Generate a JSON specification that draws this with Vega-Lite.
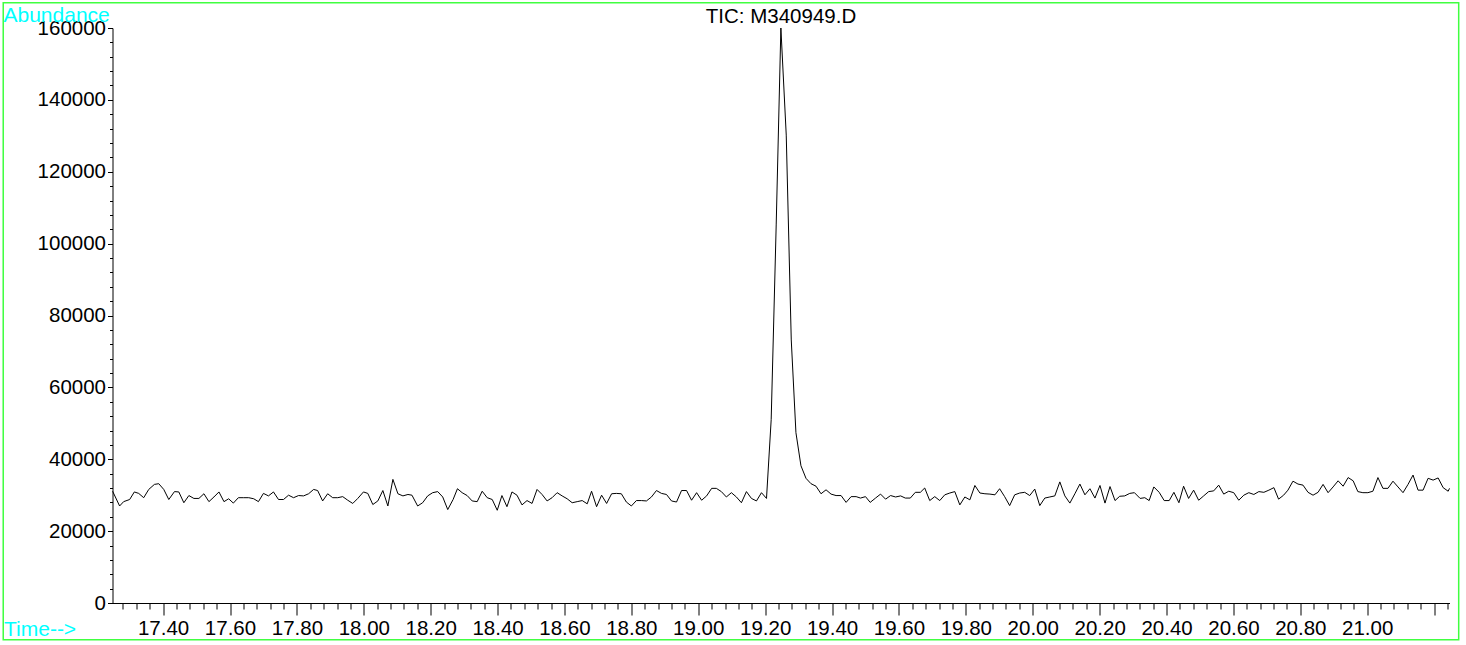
{
"$schema": "https://vega.github.io/schema/vega-lite/v6.json",
"width": 1337,
"height": 575,
"autosize": {"type": "none"},
"padding": {"left": 112.5, "top": 28, "right": 16, "bottom": 42},
"background": "white",
"config": {
  "view": {"stroke": null},
  "font": "Liberation Sans",
  "axis": {"domainColor": "black", "tickColor": "black", "labelColor": "black", "labelFont": "Liberation Sans", "labelFontSize": 20.5, "grid": false, "domainWidth": 1, "tickWidth": 1, "labelFlush": false, "labelOverlap": false}
},
"title": {"text": "TIC: M340949.D", "frame": "group", "anchor": "middle", "baseline": "alphabetic", "offset": 0, "dy": 41.4, "fontSize": 20.5, "fontWeight": "normal", "font": "Liberation Sans", "color": "black"},
"datasets": {
  "tic": [
{"t":17.249,"v":31100},{"t":17.270,"v":27000},{"t":17.282,"v":28200},{"t":17.300,"v":28800},{"t":17.314,"v":30900},{"t":17.327,"v":30500},{"t":17.342,"v":29300},{"t":17.357,"v":31600},{"t":17.374,"v":33000},{"t":17.387,"v":33200},
{"t":17.402,"v":31600},{"t":17.417,"v":28800},{"t":17.434,"v":31000},{"t":17.447,"v":30900},{"t":17.462,"v":27900},{"t":17.477,"v":29900},{"t":17.492,"v":29100},{"t":17.507,"v":29100},{"t":17.522,"v":30400},{"t":17.537,"v":28200},
{"t":17.552,"v":29500},{"t":17.567,"v":30900},{"t":17.582,"v":28200},{"t":17.596,"v":29000},{"t":17.610,"v":27800},{"t":17.625,"v":29300},{"t":17.641,"v":29300},{"t":17.656,"v":29300},{"t":17.671,"v":29000},{"t":17.685,"v":28200},
{"t":17.700,"v":30500},{"t":17.715,"v":29800},{"t":17.730,"v":30900},{"t":17.745,"v":28800},{"t":17.760,"v":28800},{"t":17.775,"v":30000},{"t":17.790,"v":29300},{"t":17.805,"v":29900},{"t":17.820,"v":29800},{"t":17.835,"v":30400},
{"t":17.850,"v":31600},{"t":17.862,"v":31300},{"t":17.877,"v":28400},{"t":17.892,"v":30400},{"t":17.907,"v":29300},{"t":17.922,"v":29300},{"t":17.937,"v":29600},{"t":17.952,"v":28600},{"t":17.967,"v":27700},{"t":17.982,"v":29100},
{"t":17.999,"v":30900},{"t":18.012,"v":30500},{"t":18.027,"v":27400},{"t":18.042,"v":28400},{"t":18.057,"v":31300},{"t":18.072,"v":27000},{"t":18.087,"v":34400},{"t":18.102,"v":30400},{"t":18.117,"v":29800},{"t":18.132,"v":30200},
{"t":18.144,"v":30000},{"t":18.161,"v":27000},{"t":18.176,"v":27900},{"t":18.191,"v":29800},{"t":18.206,"v":30700},{"t":18.221,"v":31000},{"t":18.236,"v":29500},{"t":18.251,"v":26000},{"t":18.267,"v":28800},{"t":18.280,"v":31800},
{"t":18.294,"v":30700},{"t":18.309,"v":29900},{"t":18.324,"v":28400},{"t":18.339,"v":28200},{"t":18.354,"v":31100},{"t":18.369,"v":29300},{"t":18.384,"v":28800},{"t":18.399,"v":25800},{"t":18.413,"v":29900},{"t":18.428,"v":26800},
{"t":18.443,"v":30900},{"t":18.458,"v":30000},{"t":18.473,"v":27300},{"t":18.488,"v":28500},{"t":18.503,"v":27700},{"t":18.518,"v":31600},{"t":18.533,"v":30200},{"t":18.548,"v":28400},{"t":18.563,"v":29300},{"t":18.578,"v":30700},
{"t":18.593,"v":29800},{"t":18.608,"v":29000},{"t":18.623,"v":27900},{"t":18.638,"v":28200},{"t":18.653,"v":28500},{"t":18.668,"v":27600},{"t":18.681,"v":31100},{"t":18.696,"v":26800},{"t":18.711,"v":30000},{"t":18.726,"v":27700},
{"t":18.741,"v":30400},{"t":18.755,"v":30500},{"t":18.770,"v":30400},{"t":18.785,"v":28100},{"t":18.800,"v":27000},{"t":18.815,"v":28500},{"t":18.830,"v":28500},{"t":18.845,"v":28400},{"t":18.860,"v":29500},{"t":18.875,"v":31300},
{"t":18.890,"v":30500},{"t":18.905,"v":30200},{"t":18.920,"v":28400},{"t":18.935,"v":28100},{"t":18.950,"v":31300},{"t":18.965,"v":31300},{"t":18.980,"v":28600},{"t":18.995,"v":30700},{"t":19.010,"v":28600},{"t":19.025,"v":29800},
{"t":19.040,"v":31900},{"t":19.054,"v":31900},{"t":19.069,"v":31000},{"t":19.084,"v":29500},{"t":19.099,"v":30700},{"t":19.114,"v":29500},{"t":19.129,"v":27900},{"t":19.144,"v":31000},{"t":19.159,"v":29100},{"t":19.174,"v":28400},
{"t":19.189,"v":30700},{"t":19.204,"v":29100},{"t":19.218,"v":51000},{"t":19.233,"v":105200},{"t":19.247,"v":160000},{"t":19.263,"v":130200},{"t":19.278,"v":73200},{"t":19.292,"v":47400},{"t":19.307,"v":38200},{"t":19.322,"v":34700},
{"t":19.337,"v":33200},{"t":19.352,"v":32500},{"t":19.367,"v":30400},{"t":19.382,"v":31500},{"t":19.397,"v":30300},{"t":19.412,"v":29900},{"t":19.427,"v":29900},{"t":19.442,"v":28000},{"t":19.457,"v":29600},{"t":19.472,"v":29600},
{"t":19.485,"v":29200},{"t":19.500,"v":29600},{"t":19.514,"v":28000},{"t":19.530,"v":29200},{"t":19.545,"v":30300},{"t":19.560,"v":28900},{"t":19.575,"v":29900},{"t":19.590,"v":29500},{"t":19.605,"v":29800},{"t":19.619,"v":29200},
{"t":19.634,"v":29200},{"t":19.649,"v":30800},{"t":19.664,"v":30800},{"t":19.677,"v":32000},{"t":19.692,"v":28500},{"t":19.707,"v":29600},{"t":19.722,"v":28500},{"t":19.737,"v":30100},{"t":19.752,"v":30600},{"t":19.767,"v":31000},
{"t":19.782,"v":27300},{"t":19.797,"v":29500},{"t":19.812,"v":28700},{"t":19.827,"v":32700},{"t":19.842,"v":30600},{"t":19.857,"v":30400},{"t":19.872,"v":30300},{"t":19.887,"v":30100},{"t":19.901,"v":31800},{"t":19.916,"v":29600},
{"t":19.931,"v":27100},{"t":19.946,"v":30100},{"t":19.961,"v":30600},{"t":19.976,"v":30800},{"t":19.991,"v":29900},{"t":20.006,"v":31700},{"t":20.021,"v":27100},{"t":20.036,"v":29200},{"t":20.051,"v":29500},{"t":20.066,"v":29800},
{"t":20.081,"v":33700},{"t":20.096,"v":29800},{"t":20.111,"v":27800},{"t":20.126,"v":30400},{"t":20.141,"v":33100},{"t":20.156,"v":30100},{"t":20.171,"v":31800},{"t":20.186,"v":29200},{"t":20.201,"v":32700},{"t":20.216,"v":27800},
{"t":20.231,"v":32400},{"t":20.246,"v":28500},{"t":20.260,"v":29700},{"t":20.275,"v":29800},{"t":20.290,"v":30500},{"t":20.304,"v":30700},{"t":20.321,"v":29100},{"t":20.335,"v":29300},{"t":20.348,"v":28500},{"t":20.362,"v":32300},
{"t":20.378,"v":30800},{"t":20.393,"v":28500},{"t":20.408,"v":28500},{"t":20.422,"v":30800},{"t":20.437,"v":27900},{"t":20.451,"v":32500},{"t":20.466,"v":29100},{"t":20.481,"v":31400},{"t":20.496,"v":28600},{"t":20.511,"v":29800},
{"t":20.526,"v":31000},{"t":20.541,"v":31200},{"t":20.556,"v":32800},{"t":20.571,"v":30300},{"t":20.586,"v":31100},{"t":20.601,"v":30700},{"t":20.616,"v":28600},{"t":20.631,"v":30000},{"t":20.646,"v":30700},{"t":20.661,"v":30200},
{"t":20.676,"v":31000},{"t":20.691,"v":30800},{"t":20.706,"v":31400},{"t":20.721,"v":32100},{"t":20.735,"v":28900},{"t":20.750,"v":30000},{"t":20.763,"v":31400},{"t":20.778,"v":33900},{"t":20.793,"v":33100},{"t":20.808,"v":32800},
{"t":20.823,"v":30800},{"t":20.838,"v":30000},{"t":20.853,"v":30800},{"t":20.868,"v":33000},{"t":20.883,"v":30700},{"t":20.898,"v":32300},{"t":20.913,"v":34000},{"t":20.928,"v":32500},{"t":20.943,"v":34900},{"t":20.958,"v":34000},
{"t":20.972,"v":31000},{"t":20.987,"v":30700},{"t":21.002,"v":30700},{"t":21.017,"v":31100},{"t":21.032,"v":34900},{"t":21.047,"v":31900},{"t":21.062,"v":31900},{"t":21.077,"v":33900},{"t":21.092,"v":32300},{"t":21.107,"v":30700},
{"t":21.122,"v":33000},{"t":21.137,"v":35600},{"t":21.152,"v":31400},{"t":21.167,"v":31400},{"t":21.182,"v":34700},{"t":21.197,"v":34200},{"t":21.212,"v":34800},{"t":21.227,"v":32100},{"t":21.242,"v":31100},{"t":21.246,"v":31900}
  ]
},
"layer": [
  {
    "data": {"values": [{}]},
    "mark": {"type": "rect", "fill": null, "stroke": "#40ff40", "strokeWidth": 1.5, "clip": false},
    "encoding": {
      "x": {"datum": 16.922, "type": "quantitative", "scale": {"domain": [17.2487, 21.246], "nice": false, "zero": false},
        "axis": {"orient": "bottom", "values": [17.28,17.32,17.36,17.44,17.48,17.52,17.56,17.64,17.68,17.72,17.76,17.84,17.88,17.92,17.96,18.04,18.08,18.12,18.16,18.24,18.28,18.32,18.36,18.44,18.48,18.52,18.56,18.64,18.68,18.72,18.76,18.84,18.88,18.92,18.96,19.04,19.08,19.12,19.16,19.24,19.28,19.32,19.36,19.44,19.48,19.52,19.56,19.64,19.68,19.72,19.76,19.84,19.88,19.92,19.96,20.04,20.08,20.12,20.16,20.24,20.28,20.32,20.36,20.44,20.48,20.52,20.56,20.64,20.68,20.72,20.76,20.84,20.88,20.92,20.96,21.04,21.08,21.12,21.16,21.24], "labels": false, "domain": false, "tickSize": 6, "title": null}},
      "x2": {"datum": 21.2735},
      "y": {"datum": 167000, "type": "quantitative", "scale": {"domain": [0, 160000], "nice": false, "zero": false},
        "axis": {"orient": "left", "values": [4000,8000,12000,16000,24000,28000,32000,36000,44000,48000,52000,56000,64000,68000,72000,76000,84000,88000,92000,96000,104000,108000,112000,116000,124000,128000,132000,136000,144000,148000,152000,156000], "labels": false, "domain": false, "tickSize": 3, "title": null}},
      "y2": {"datum": -10200}
    }
  },
  {
    "data": {"name": "tic"},
    "mark": {"type": "line", "color": "black", "strokeWidth": 1},
    "encoding": {
      "x": {"field": "t", "type": "quantitative", "scale": {"domain": [17.2487, 21.246], "nice": false, "zero": false},
        "axis": {"orient": "bottom", "values": [17.4,17.6,17.8,18.0,18.2,18.4,18.6,18.8,19.0,19.2,19.4,19.6,19.8,20.0,20.2,20.4,20.6,20.8,21.0,21.2], "labelExpr": "datum.value > 21.1 ? '' : format(datum.value, '.2f')", "tickSize": 12, "labelPadding": 3,
          "title": "Time-->", "titleColor": "#00ffff", "titleFont": "Liberation Sans", "titleFontSize": 21, "titleFontWeight": "normal", "titleAlign": "left", "titleBaseline": "alphabetic", "titleX": -109, "titleY": 32}},
      "y": {"field": "v", "type": "quantitative", "scale": {"domain": [0, 160000], "nice": false, "zero": false},
        "axis": {"orient": "left", "values": [0,20000,40000,60000,80000,100000,120000,140000,160000], "format": "d", "tickSize": 5, "labelPadding": 2,
          "title": "Abundance", "titleColor": "#00ffff", "titleFont": "Liberation Sans", "titleFontSize": 21, "titleFontWeight": "normal", "titleAngle": 0, "titleAlign": "left", "titleBaseline": "alphabetic", "titleX": -109.5, "titleY": -6.3}}
    }
  }
],
"resolve": {"axis": {"x": "independent", "y": "independent"}}
}
